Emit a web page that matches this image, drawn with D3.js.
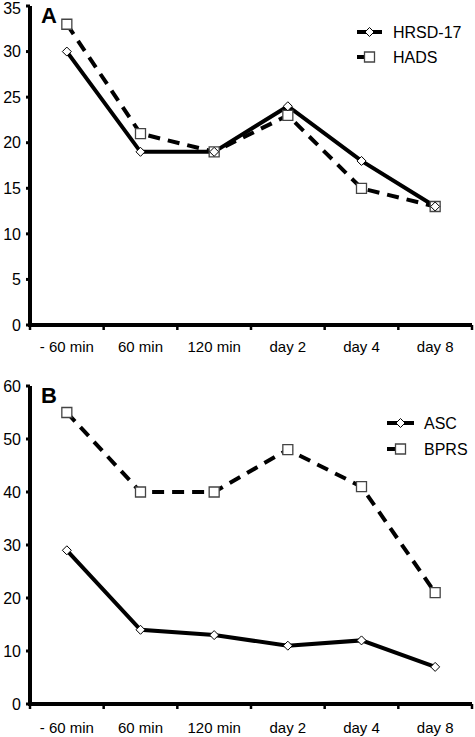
<!DOCTYPE html>
<html><head><meta charset="utf-8">
<script src="https://cdn.jsdelivr.net/npm/d3@7"></script>
<style>body{margin:0;background:#fff}svg{display:block}text{font-family:Arial,"Liberation Sans",sans-serif}</style>
</head><body><svg id="c" width="475" height="737"></svg>
<script>
const categories = ["- 60 min","60 min","120 min","day 2","day 4","day 8"];
const hrsd = [30,19,19,24,18,13];
const hads = [33,21,19,23,15,13];
const asc = [29,14,13,11,12,7];
const bprs = [55,40,40,48,41,21];
const ticksA = [0,5,10,15,20,25,30,35];
const ticksB = [0,10,20,30,40,50,60];

const svg = d3.select("#c");
const diamondPath = "M0,-4.5L4.5,0L0,4.5L-4.5,0Z";
const square = d3.symbol().type(d3.symbolSquare).size(100);

function panel(o){
  const g = svg.append("g");
  const x = d3.scaleBand().domain(categories).range([30,472]);
  const y = d3.scaleLinear().domain([0,o.max]).range([o.y0,o.y1]);
  g.append("line").attr("x1",30).attr("x2",30).attr("y1",y(o.max)).attr("y2",y(0)+2).attr("stroke","#000").attr("stroke-width",4);
  g.append("line").attr("x1",28).attr("x2",472).attr("y1",y(0)).attr("y2",y(0)).attr("stroke","#000").attr("stroke-width",4);
  o.ticks.forEach(t=>{
    g.append("line").attr("x1",26).attr("x2",30).attr("y1",y(t)).attr("y2",y(t)).attr("stroke","#000").attr("stroke-width",3);
    g.append("text").attr("x",21).attr("y",Math.max(y(t),8.5)).attr("dy","0.36em").attr("text-anchor","end").attr("font-size",16).text(t);
  });
  const edges = categories.map(c=>x(c)).concat([472]);
  edges.forEach(e=>{
    g.append("line").attr("x1",e).attr("x2",e).attr("y1",y(0)).attr("y2",y(0)+5).attr("stroke","#000").attr("stroke-width",2.5);
  });
  categories.forEach(c=>{
    g.append("text").attr("x",x(c)+x.bandwidth()/2).attr("y",o.labY).attr("dy","0.36em").attr("text-anchor","middle").attr("font-size",15).text(c);
  });
  const cx = c=>x(c)+x.bandwidth()/2;
  const line = d3.line().x((d,i)=>cx(categories[i])).y(d=>y(d));
  g.append("path").attr("d",line(o.s2)).attr("fill","none").attr("stroke","#000").attr("stroke-width",4).attr("stroke-dasharray","12,8");
  g.append("path").attr("d",line(o.s1)).attr("fill","none").attr("stroke","#000").attr("stroke-width",4);
  o.s2.forEach((d,i)=>{
    g.append("path").attr("d",square()).attr("transform",`translate(${cx(categories[i])},${y(d)})`).attr("fill","#fff").attr("stroke","#444").attr("stroke-width",1.3);
  });
  o.s1.forEach((d,i)=>{
    g.append("path").attr("d",diamondPath).attr("transform",`translate(${cx(categories[i])},${y(d)})`).attr("fill","#fff").attr("stroke","#000").attr("stroke-width",1);
  });
  g.append("text").attr("x",41).attr("y",o.y1+17).attr("font-size",22).attr("font-weight","bold").text(o.letter);
  const L = o.leg;
  g.append("line").attr("x1",L.x1).attr("x2",L.x2).attr("y1",L.y).attr("y2",L.y).attr("stroke","#000").attr("stroke-width",4);
  g.append("path").attr("d",diamondPath).attr("transform",`translate(${(L.x1+L.x2)/2},${L.y})`).attr("fill","#fff").attr("stroke","#000");
  g.append("text").attr("x",L.tx).attr("y",L.y).attr("dy","0.36em").attr("font-size",16).text(o.n1);
  g.append("line").attr("x1",L.x1).attr("x2",(L.x1+L.x2)/2).attr("y1",L.y+L.dy).attr("y2",L.y+L.dy).attr("stroke","#000").attr("stroke-width",4);
  g.append("path").attr("d",square()).attr("transform",`translate(${(L.x1+L.x2)/2},${L.y+L.dy})`).attr("fill","#fff").attr("stroke","#444").attr("stroke-width",1.3);
  g.append("text").attr("x",L.tx).attr("y",L.y+L.dy).attr("dy","0.36em").attr("font-size",16).text(o.n2);
}

panel({max:35,y0:325,y1:6,ticks:ticksA,labY:347,s1:hrsd,s2:hads,letter:"A",n1:"HRSD-17",n2:"HADS",
  leg:{x1:357,x2:382,y:32,dy:25,tx:393}});
panel({max:60,y0:704,y1:386,ticks:ticksB,labY:728,s1:asc,s2:bprs,letter:"B",n1:"ASC",n2:"BPRS",
  leg:{x1:387,x2:414,y:423,dy:26,tx:424}});
</script></body></html>
